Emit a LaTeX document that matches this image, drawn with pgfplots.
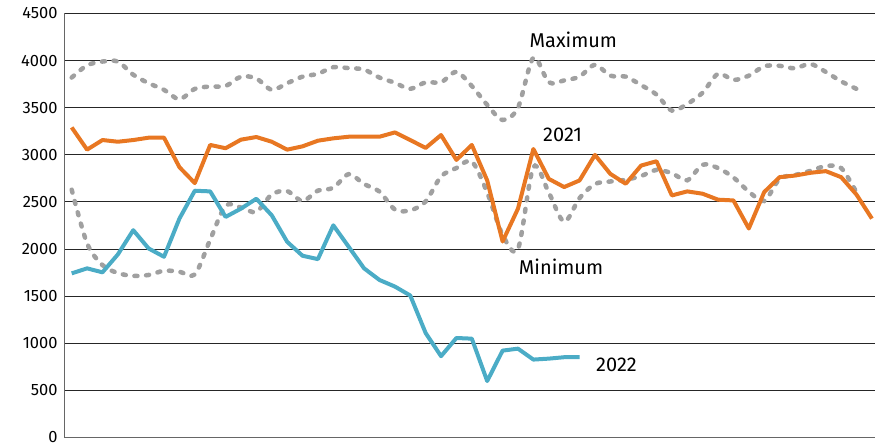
\documentclass[border=0pt]{standalone}
\usepackage{pgfplots}
\pgfplotsset{compat=1.18}
\usepackage{fontspec}
\setmainfont{Fira Sans}
\definecolor{orng}{HTML}{E87722}
\definecolor{blu}{HTML}{4BACC6}
\definecolor{dotg}{HTML}{A0A0A0}
\pgfplotstableread{
x y
0 3291
1 3055
2 3157
3 3139
4 3157
5 3182
6 3182
7 2869
8 2700
9 3105
10 3070
11 3161
12 3189
13 3139
14 3055
15 3090
16 3150
17 3175
18 3192
19 3192
20 3192
21 3238
22 3157
23 3073
24 3210
25 2946
26 3105
27 2728
28 2080
29 2429
30 3062
31 2745
32 2658
33 2728
34 2999
35 2798
36 2693
37 2886
38 2932
39 2569
40 2612
41 2587
42 2524
43 2516
44 2218
45 2605
46 2763
47 2780
48 2809
49 2827
50 2763
51 2577
52 2323
}\yra
\pgfplotstableread{
x y
0 1742
1 1795
2 1753
3 1943
4 2200
5 2006
6 1918
7 2323
8 2619
9 2612
10 2341
11 2429
12 2534
13 2358
14 2077
15 1929
16 1893
17 2252
18 2024
19 1795
20 1672
21 1602
22 1507
23 1109
24 863
25 1056
26 1049
27 599
28 922
29 943
30 827
31 837
32 852
33 852
}\yrb
\pgfplotstableread{
x y
0 3820
1 3950
2 3990
3 3990
4 3850
5 3760
6 3690
7 3590
8 3700
9 3725
10 3730
11 3830
12 3810
13 3690
14 3760
15 3830
16 3860
17 3930
18 3920
19 3905
20 3820
21 3765
22 3700
23 3770
24 3770
25 3880
26 3730
27 3530
28 3370
29 3500
30 4030
31 3770
32 3790
33 3830
34 3955
35 3840
36 3830
37 3740
38 3640
39 3470
40 3540
41 3660
42 3860
43 3795
44 3840
45 3940
46 3945
47 3918
48 3965
49 3880
50 3780
51 3700
}\ymax
\pgfplotstableread{
x y
0 2630
1 2060
2 1830
3 1745
4 1715
5 1725
6 1770
7 1760
8 1730
9 2100
10 2460
11 2440
12 2395
13 2580
14 2615
15 2510
16 2620
17 2650
18 2795
19 2690
20 2610
21 2420
22 2410
23 2505
24 2770
25 2860
26 2930
27 2600
28 2150
29 2000
30 2870
31 2600
32 2290
33 2540
34 2690
35 2717
36 2735
37 2775
38 2840
39 2805
40 2730
41 2895
42 2860
43 2760
44 2610
45 2510
46 2745
47 2785
48 2830
49 2880
50 2860
51 2600
}\ymin
\begin{document}
\begin{tikzpicture}
\useasboundingbox (-65bp,-9.5bp) rectangle (810bp,437.5bp);
\begin{axis}[
  at={(0,0)}, anchor=south west,
  scale only axis, width=810bp, height=424bp,
  xmin=-0.435, xmax=52.2, ymin=0, ymax=4500,
  ytick={0,500,...,4500}, xtick=\empty,
  axis x line=bottom, axis y line=left,
  axis line style={-, draw=gray!80!black, line width=1bp},
  ymajorgrids, grid style={black!85, line width=0.9bp},
  major tick length=0pt,
  yticklabel style={font=\fontsize{16.5}{16.5}\selectfont, xshift=-4bp},
  /pgf/number format/assume math mode=true,
  /pgf/number format/1000 sep={},
  clip=false,
]
\addplot[dotg, line width=4.5bp, line cap=round, dash pattern=on 3bp off 8.7bp, smooth, tension=0.5] table {\ymax};
\addplot[dotg, line width=4.5bp, line cap=round, dash pattern=on 3bp off 8.7bp, smooth, tension=0.5] table {\ymin};
\addplot[orng, line width=4bp, line join=round] table {\yra};
\addplot[blu, line width=4bp, line join=round] table {\yrb};
\node[font=\fontsize{20}{20}\selectfont] at (axis cs:32.6,4225) {Maximum};
\node[font=\fontsize{20}{20}\selectfont] at (axis cs:31.9,3210) {2021};
\node[font=\fontsize{20}{20}\selectfont] at (axis cs:31.8,1816) {Minimum};
\node[font=\fontsize{20}{20}\selectfont] at (axis cs:35.4,771) {2022};
\end{axis}
\end{tikzpicture}
\end{document}
